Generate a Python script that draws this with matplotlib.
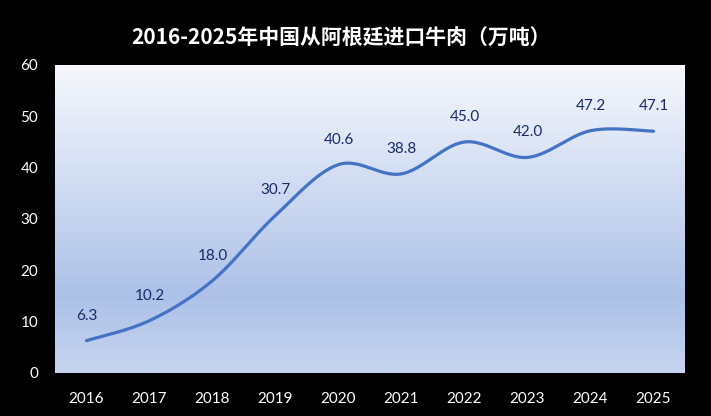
import matplotlib.pyplot as plt
import numpy as np
from matplotlib.colors import LinearSegmentedColormap

plt.rcParams['font.family'] = ['Lato', 'Noto Sans CJK SC', 'DejaVu Sans']

years = ['2016', '2017', '2018', '2019', '2020', '2021', '2022', '2023', '2024', '2025']
values = [6.3, 10.2, 18.0, 30.7, 40.6, 38.8, 45.0, 42.0, 47.2, 47.1]
title = '2016-2025年中国从阿根廷进口牛肉（万吨）'


def catmull_rom(x, y, n=30):
    # Excel-like smoothed line
    px = np.concatenate([[x[0]], x, [x[-1]]])
    py = np.concatenate([[y[0]], y, [y[-1]]])
    xs, ys = [], []
    t = np.linspace(0, 1, n)
    for i in range(1, len(px) - 2):
        p0, p1, p2, p3 = [np.array([px[j], py[j]]) for j in range(i - 1, i + 3)]
        for tt in t:
            pt = 0.5 * ((2 * p1) + (-p0 + p2) * tt + (2 * p0 - 5 * p1 + 4 * p2 - p3) * tt ** 2
                        + (-p0 + 3 * p1 - 3 * p2 + p3) * tt ** 3)
            xs.append(pt[0])
            ys.append(pt[1])
    return np.array(xs), np.array(ys)


fig = plt.figure(figsize=(7.11, 4.16), dpi=100, facecolor='black')
ax = fig.add_axes([55 / 711, 1 - 373 / 416, 630 / 711, 308 / 416])
ax.set_facecolor('black')

x = np.arange(len(years))

cmap = LinearSegmentedColormap.from_list('bg', [(0, '#f6f8fd'), (0.75, '#adc1e8'), (1, '#c6d4ef')])
grad = np.linspace(0, 1, 256).reshape(-1, 1)
ax.imshow(grad, cmap=cmap, aspect='auto', origin='upper',
          extent=[-0.5, len(years) - 0.5, 0, 60], zorder=0)
ax.set_xlim(-0.5, len(years) - 0.5)
ax.set_ylim(0, 60)

sx, sy = catmull_rom(x, np.array(values))
ax.plot(sx, sy, color='#4472c4', lw=2.3, solid_capstyle='round', zorder=3)

for xi, v in zip(x, values):
    ax.annotate('%.1f' % v, (xi, v), xytext=(0, 13), textcoords='offset points',
                ha='center', va='bottom', fontsize=11, color='#1a2a66', zorder=4)

for s in ax.spines.values():
    s.set_visible(False)
ax.set_xticks(x)
ax.set_xticklabels(years)
ax.set_yticks(range(0, 61, 10))
ax.tick_params(colors='white', labelsize=11, length=0)
ax.tick_params(axis='x', pad=14)
ax.tick_params(axis='y', pad=12)

fig.text(341 / 711, 1 - 38 / 416, title, color='white', fontsize=15, fontweight='bold',
         ha='center', va='center', family=['Noto Sans CJK SC', 'DejaVu Sans'])

fig.savefig('out.png', facecolor='black')
